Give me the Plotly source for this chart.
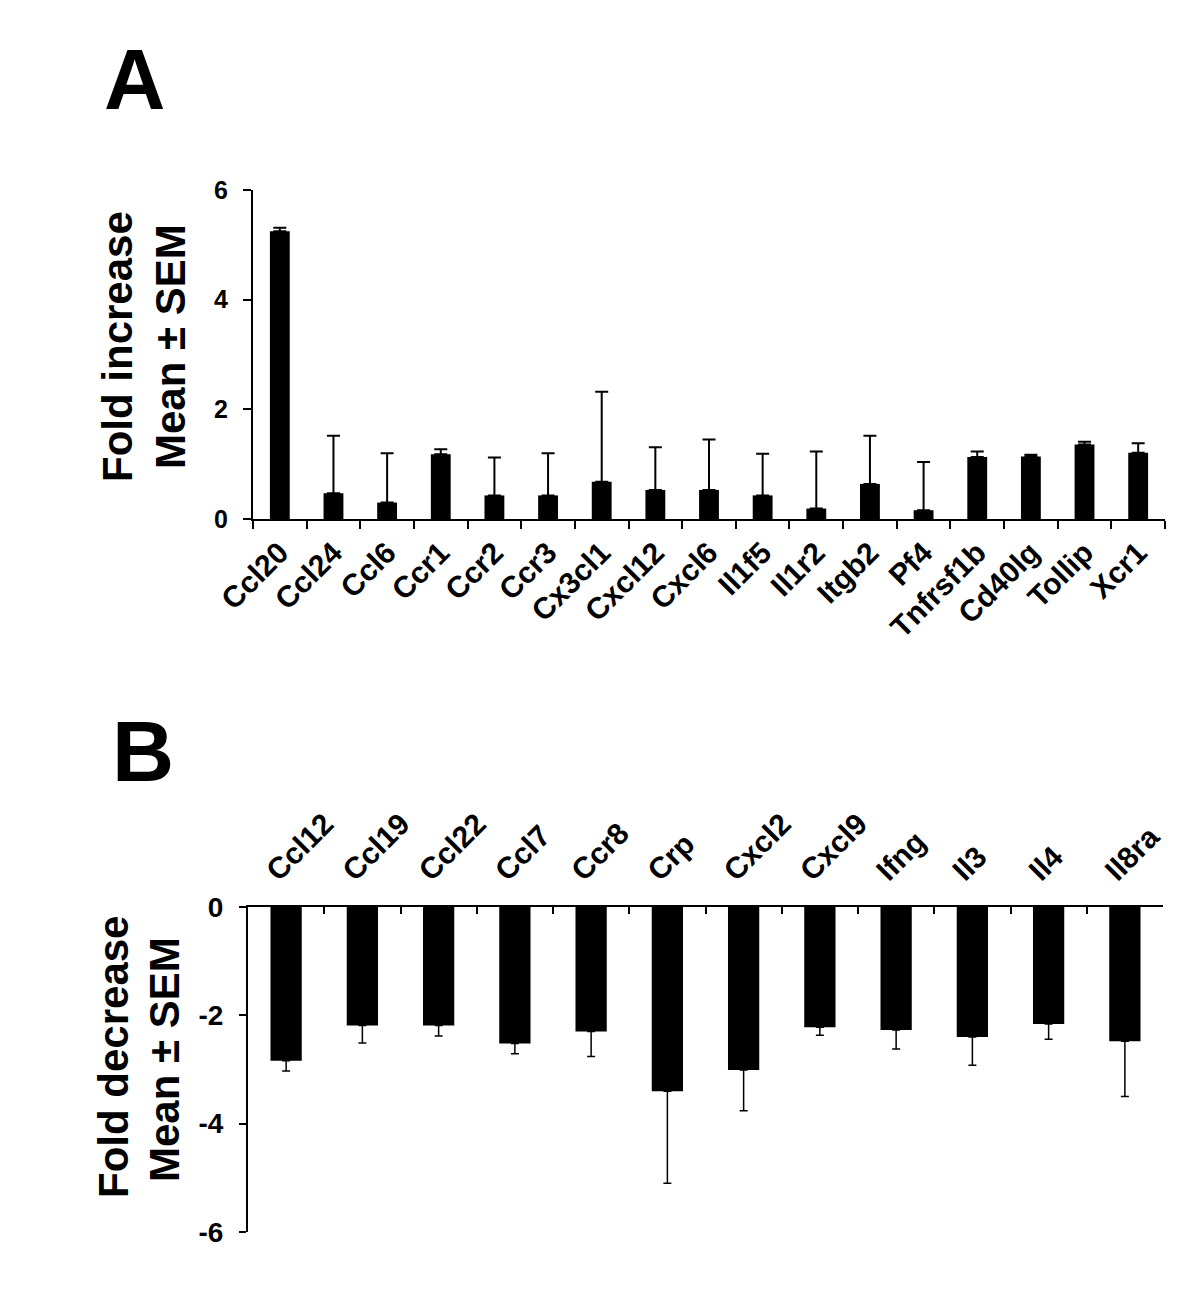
import plotly.graph_objects as go

W, H = 1200, 1291
OFF = 8  # page body margin in the rendered html

# Panel A data
genes_a = ["Ccl20", "Ccl24", "Ccl6", "Ccr1", "Ccr2", "Ccr3", "Cx3cl1", "Cxcl12", "Cxcl6",
           "Il1f5", "Il1r2", "Itgb2", "Pf4", "Tnfrsf1b", "Cd40lg", "Tollip", "Xcr1"]
fold_a = [5.25, 0.47, 0.30, 1.18, 0.43, 0.43, 0.68, 0.53, 0.53,
          0.43, 0.19, 0.64, 0.16, 1.13, 1.14, 1.36, 1.21]
sem_a = [0.06, 1.05, 0.90, 0.09, 0.69, 0.77, 1.64, 0.78, 0.92,
         0.76, 1.04, 0.88, 0.88, 0.10, 0.03, 0.05, 0.17]
ticks_a = [0, 2, 4, 6]

# Panel B data
genes_b = ["Ccl12", "Ccl19", "Ccl22", "Ccl7", "Ccr8", "Crp", "Cxcl2", "Cxcl9", "Ifng", "Il3", "Il4", "Il8ra"]
fold_b = [-2.84, -2.19, -2.19, -2.52, -2.30, -3.40, -3.01, -2.22, -2.27, -2.40, -2.16, -2.48]
sem_b = [0.19, 0.32, 0.19, 0.19, 0.46, 1.70, 0.75, 0.15, 0.35, 0.52, 0.28, 1.02]
ticks_b = [0, -2, -4, -6]
ticklabels_b = ["0", "-2", "-4", "-6"]

FONT = "Arial, Liberation Sans, Helvetica, sans-serif"


def px(x):
    return (x - OFF) / W


def py(y):
    return 1 - (y - OFF) / H


fig = go.Figure()

fig.add_trace(go.Bar(
    x=genes_a, y=fold_a, width=0.37, marker=dict(color="black", line=dict(width=0)),
    error_y=dict(type="data", symmetric=False, array=sem_a, arrayminus=[0] * len(sem_a),
                 color="black", thickness=2, width=6.5),
    xaxis="x", yaxis="y", showlegend=False,
))

fig.add_trace(go.Bar(
    x=genes_b, y=fold_b, width=0.41, marker=dict(color="black", line=dict(width=0)),
    error_y=dict(type="data", symmetric=False, array=[0] * len(sem_b), arrayminus=sem_b,
                 color="black", thickness=1.5, width=4),
    xaxis="x2", yaxis="y2", showlegend=False,
))

fig.update_layout(
    template="none",
    width=W, height=H,
    margin=dict(l=0, r=0, t=0, b=0, autoexpand=False),
    paper_bgcolor="white", plot_bgcolor="white",
    font=dict(family=FONT, color="black"),
    xaxis=dict(domain=[px(253), px(1165)], anchor="y", range=[-0.5, 16.5], automargin=False,
               showline=True, linecolor="black", linewidth=2,
               ticks="outside", tickson="boundaries", ticklen=8, tickwidth=2, tickcolor="black",
               tickangle=-45, ticklabelstandoff=2,
               tickfont=dict(size=30, family=FONT, weight="bold"),
               showgrid=False, zeroline=False, fixedrange=True),
    yaxis=dict(domain=[py(519), py(190)], anchor="x", range=[0, 6], automargin=False,
               tickvals=ticks_a, showline=True, linecolor="black", linewidth=2,
               ticks="outside", ticklen=8, tickwidth=2, tickcolor="black",
               ticklabelstandoff=10,
               tickfont=dict(size=25, family=FONT, weight="bold"),
               showgrid=False, zeroline=False, fixedrange=True),
    xaxis2=dict(domain=[px(248), px(1163)], anchor="y2", side="top", range=[-0.5, 11.5],
                automargin=False,
                showline=True, linecolor="black", linewidth=2,
                ticks="inside", tickson="boundaries", ticklen=7, tickwidth=2, tickcolor="black",
                tickangle=-45, ticklabelstandoff=6, ticklabelshift=-18,
                tickfont=dict(size=30, family=FONT, weight="bold"),
                showgrid=False, zeroline=False, fixedrange=True),
    yaxis2=dict(domain=[py(1232), py(907)], anchor="x2", range=[-6, 0], automargin=False,
                tickvals=ticks_b, ticktext=ticklabels_b,
                showline=True, linecolor="black", linewidth=2,
                ticks="outside", ticklen=7, tickwidth=2, tickcolor="black",
                ticklabelstandoff=10,
                tickfont=dict(size=28, family=FONT, weight="bold"),
                showgrid=False, zeroline=False, fixedrange=True),
)

ann = [
    dict(text="A", x=px(134), y=py(80), size=85),
    dict(text="B", x=px(143), y=py(751), size=86),
]
for a in ann:
    fig.add_annotation(text=a["text"], x=a["x"], y=a["y"], xref="paper", yref="paper",
                       showarrow=False, xanchor="center", yanchor="middle",
                       font=dict(size=a["size"], family=FONT, color="black", weight="bold"))

titles = [
    ("Fold increase", 117, 347),
    ("Mean ± SEM", 170, 347),
    ("Fold decrease", 113, 1057),
    ("Mean ± SEM", 164, 1060),
]
for t, x, y in titles:
    fig.add_annotation(text=t, x=px(x), y=py(y), xref="paper", yref="paper",
                       showarrow=False, xanchor="center", yanchor="middle", textangle=-90,
                       font=dict(size=42, family=FONT, color="black", weight="bold"))

fig.write_html("out.html")
